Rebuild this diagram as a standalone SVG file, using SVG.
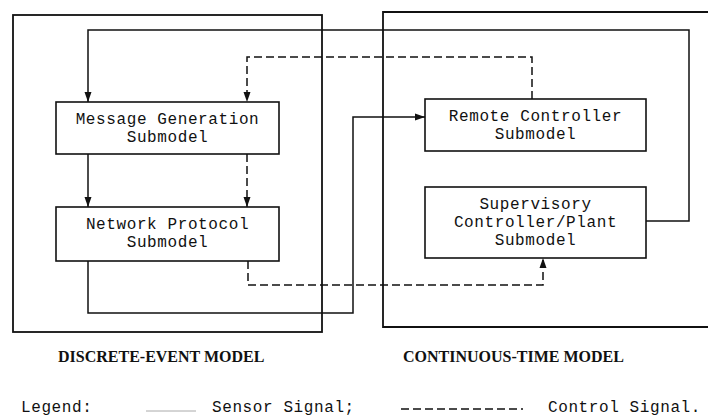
<svg xmlns="http://www.w3.org/2000/svg" width="708" height="418" viewBox="0 0 708 418">
<defs>
<style>
.frame{fill:none;stroke:#111;stroke-width:1.8}
.box{fill:#fff;stroke:#111;stroke-width:1.6}
.t{font-family:"Liberation Mono","Courier New",monospace;font-size:16px;letter-spacing:0.6px;fill:#111;text-anchor:middle}
.cap{font-family:"Liberation Serif","Times New Roman",serif;font-size:16px;font-weight:bold;fill:#111}
.leg{font-family:"Liberation Mono","Courier New",monospace;font-size:16px;letter-spacing:0.6px;fill:#111}
.sensor{fill:none;stroke:#111;stroke-width:1.5}
.control{fill:none;stroke:#111;stroke-width:1.5;stroke-dasharray:8 4}
</style>
<marker id="ah" viewBox="0 0 10 10" refX="10" refY="5" markerWidth="10" markerHeight="10" markerUnits="userSpaceOnUse" orient="auto">
<path d="M0,1.5 L10,5 L0,8.5 Z" fill="#111"/>
</marker>
</defs>
<rect width="708" height="418" fill="#fff"/>
<g id="discrete-event-model">
<rect class="frame" x="13" y="15" width="309" height="317"/>
<text class="cap" x="58" y="362">DISCRETE-EVENT MODEL</text>
</g>
<g id="continuous-time-model">
<path class="frame" d="M710,12 H383 V327 H710"/>
<text class="cap" x="403" y="362">CONTINUOUS-TIME MODEL</text>
</g>
<g id="connectors">
<path class="sensor" d="M646,221 H689 V30 H88 V102" marker-end="url(#ah)"/>
<path class="control" d="M532,99 V57 H247 V102" marker-end="url(#ah)"/>
<path class="sensor" d="M88,154 V207" marker-end="url(#ah)"/>
<path class="control" d="M247,154 V207" marker-end="url(#ah)"/>
<path class="sensor" d="M88,261 V313 H353 V117 H425" marker-end="url(#ah)"/>
<path class="control" d="M248,261 V285 H543 V258" marker-end="url(#ah)"/>
</g>
<g id="message-generation">
<rect class="box" x="56" y="102" width="223" height="52"/>
<text class="t" x="167.5" y="124">Message Generation</text>
<text class="t" x="167.5" y="142">Submodel</text>
</g>
<g id="network-protocol">
<rect class="box" x="56" y="207" width="223" height="54"/>
<text class="t" x="167.5" y="229">Network Protocol</text>
<text class="t" x="167.5" y="247">Submodel</text>
</g>
<g id="remote-controller">
<rect class="box" x="425" y="99" width="221" height="52"/>
<text class="t" x="535.5" y="121">Remote Controller</text>
<text class="t" x="535.5" y="139">Submodel</text>
</g>
<g id="supervisory-controller">
<rect class="box" x="425" y="187" width="221" height="71"/>
<text class="t" x="535.5" y="209">Supervisory</text>
<text class="t" x="535.5" y="227">Controller/Plant</text>
<text class="t" x="535.5" y="245">Submodel</text>
</g>
<g id="legend">
<text class="leg" x="21" y="412">Legend:</text>
<line x1="146" y1="411" x2="196" y2="411" stroke="#aaa" stroke-width="1"/>
<text class="leg" x="212" y="412">Sensor Signal;</text>
<line class="control" x1="401" y1="409" x2="523" y2="409"/>
<text class="leg" x="548" y="412">Control Signal.</text>
</g>
</svg>
